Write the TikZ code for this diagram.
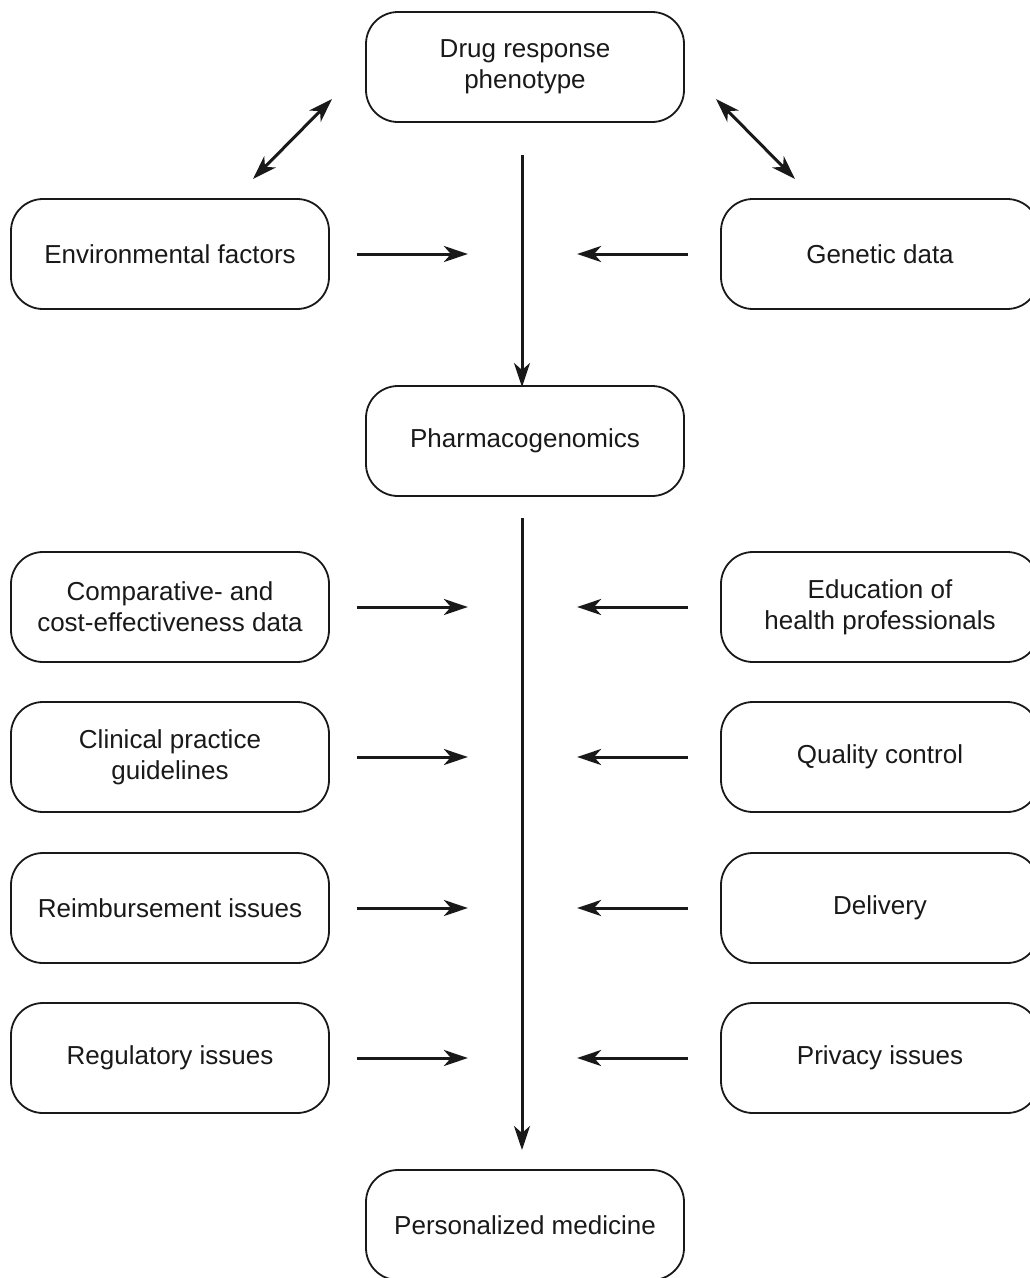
\documentclass[tikz,border=0pt]{standalone}
\usepackage{fontspec}
\setmainfont{Liberation Sans}
\usetikzlibrary{arrows.meta,calc}
\begin{document}
\begin{tikzpicture}[x=1pt,y=-1pt,
  box/.style={draw=black!90,line width=1.8pt,rounded corners=32pt,minimum width=318pt,minimum height=110pt,align=center,font=\fontsize{26}{31}\selectfont,text=black!90,inner sep=0pt},
  tip/.tip={Stealth[length=24pt,width=16pt,inset=7pt]},
  arr/.style={line width=3pt,draw=black!90,-tip},
  darr/.style={line width=3pt,draw=black!90,tip-tip}]
\useasboundingbox (0,0) rectangle (1030,1278);
\clip (0,0) rectangle (1030,1278);
\node[box] (top) at (525,67) {Drug response\\phenotype};
\node[box] (env) at (170,254) {Environmental factors};
\node[box] (gen) at (880,254) {Genetic data};
\node[box] (pgx) at (525,441) {Pharmacogenomics};
\node[box] (cmp) at (170,607) {Comparative- and\\cost-effectiveness data};
\node[box] (edu) at (880,607) {Education of\\health professionals};
\node[box] (cpg) at (170,757) {Clinical practice\\guidelines};
\node[box] (qc) at (880,757) {Quality control};
\node[box] (rei) at (170,908) {Reimbursement issues};
\node[box] (del) at (880,908) {Delivery};
\node[box] (reg) at (170,1058) {Regulatory issues};
\node[box] (pri) at (880,1058) {Privacy issues};
\node[box] (pm) at (525,1225) {Personalized medicine};
% free ends
\coordinate (v1a) at (522,155);
\coordinate (v1b) at (522,387);
\coordinate (v2a) at (522,518);
\coordinate (v2b) at (522,1150);
\draw[arr] (v1a) -- (v1b);
\draw[arr] (v2a) -- (v2b);
\coordinate (dl1) at (253,179);
\coordinate (dl2) at (332,99);
\coordinate (dr1) at (716,99);
\coordinate (dr2) at (795,179);
\draw[darr] (dl1) -- (dl2);
\draw[darr] (dr1) -- (dr2);
\foreach \n in {env,cmp,cpg,rei,reg}{
  \draw[arr] ($(\n.east)+(27,0)$) -- ($(\n.east)+(138,0)$);
}
\foreach \n in {gen,edu,qc,del,pri}{
  \draw[arr] ($(\n.west)+(-32,0)$) -- ($(\n.west)+(-143,0)$);
}
\end{tikzpicture}
\end{document}
